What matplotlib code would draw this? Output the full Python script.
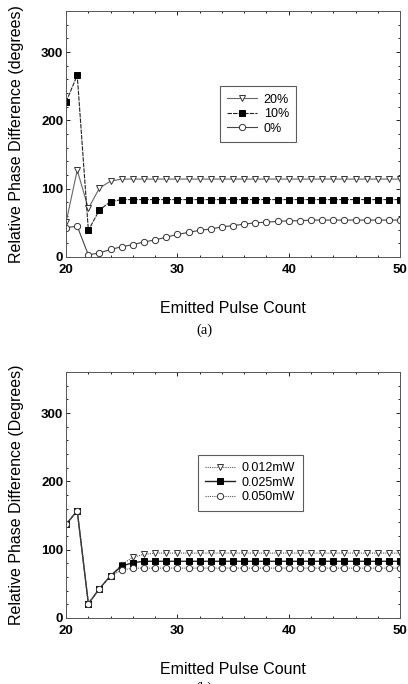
import numpy as np
import matplotlib
matplotlib.use('Agg')
import matplotlib.pyplot as plt
from matplotlib.ticker import MultipleLocator

plt.rcParams['font.family'] = ['Liberation Sans', 'DejaVu Sans']

# pulse counts shared by both panels
pulses = np.arange(20, 51)

# panel (a): relative phase difference vs. noise level
a_20 = [51, 127, 71, 101, 111] + [114] * 26
a_10 = [227, 266, 39, 69, 81] + [84] * 26
a_0 = [43, 45, 3, 6, 11, 15, 18, 22, 25, 29, 33, 36, 39, 41, 44, 46, 48, 50, 51,
       52, 53, 53] + [54] * 9
a_labels = ['20%', '10%', '0%']

# panel (b): relative phase difference vs. power
b_012 = [137, 157, 21, 43, 62, 78, 89, 93] + [95] * 23
b_025 = [137, 157, 21, 43, 62, 76, 81, 83] + [83] * 23
b_050 = [137, 157, 21, 43, 62, 70, 73, 73] + [73] * 23
b_labels = ['0.012mW', '0.025mW', '0.050mW']

fig = plt.figure(figsize=(4.08, 6.84), dpi=100)


def style_axes(ax, ylabel):
    ax.set_xlim(20, 50)
    ax.set_ylim(0, 360)
    ax.set_xticks([20, 30, 40, 50])
    ax.set_yticks([0, 100, 200, 300])
    ax.xaxis.set_minor_locator(MultipleLocator(2))
    ax.yaxis.set_minor_locator(MultipleLocator(20))
    ax.tick_params(which='both', direction='in', top=True, right=True,
                   labelsize=9.5, width=0.6)
    ax.tick_params(axis='x', pad=5)
    ax.tick_params(axis='y', pad=2)
    ax.tick_params(which='major', length=3)
    ax.tick_params(which='minor', length=1.5)
    for lbl in ax.get_xticklabels() + ax.get_yticklabels():
        lbl.set_fontweight('bold')
    for s in ax.spines.values():
        s.set_linewidth(0.7)
        s.set_color('#555555')
    ax.set_ylabel(ylabel, fontsize=11.5, labelpad=12)
    ax.set_xlabel('Emitted Pulse Count', fontsize=11.5, labelpad=18)


def style_legend(leg):
    leg.get_frame().set_edgecolor('#333333')
    leg.get_frame().set_linewidth(0.8)


mk = dict(markersize=4.5, markeredgewidth=0.7)
leg_kw = dict(loc='upper left', fontsize=9, frameon=True, fancybox=False,
              handlelength=2.4, handletextpad=0.5, labelspacing=0.2,
              borderpad=0.6, borderaxespad=0)

ax1 = fig.add_axes([0.162, 0.6243, 0.8186, 0.3596])
l1, = ax1.plot(pulses, a_20, color='#666666', lw=0.8, marker='v', mfc='white',
               mec='#333333', **mk)
l2, = ax1.plot(pulses, a_10, color='#222222', lw=0.8, ls=(0, (4, 1)), marker='s',
               mfc='black', mec='black', **mk)
l3, = ax1.plot(pulses, a_0, color='#444444', lw=0.8, marker='o', mfc='white',
               mec='#333333', **mk)
style_axes(ax1, 'Relative Phase Difference (degrees)')
leg1 = ax1.legend([l1, l2, l3], a_labels, bbox_to_anchor=(0.539, 0.874),
                  bbox_transform=fig.transFigure, **leg_kw)
style_legend(leg1)
fig.text(0.5, 1 - 330 / 684, '(a)', ha='center', va='center',
         family='Liberation Serif', fontsize=10.5)

ax2 = fig.add_axes([0.162, 0.0965, 0.8186, 0.3596])
m1, = ax2.plot(pulses, b_012, color='#555555', lw=0.8, ls=(0, (1, 1)), marker='v',
               mfc='white', mec='#333333', **mk)
m2, = ax2.plot(pulses, b_025, color='#222222', lw=1.0, marker='s',
               mfc='black', mec='black', **mk)
m3, = ax2.plot(pulses, b_050, color='#555555', lw=0.8, ls=(0, (1, 1)), marker='o',
               mfc='white', mec='#333333', **mk)
style_axes(ax2, 'Relative Phase Difference (Degrees)')
leg2 = ax2.legend([m1, m2, m3], b_labels, bbox_to_anchor=(0.485, 0.335),
                  bbox_transform=fig.transFigure, **leg_kw)
style_legend(leg2)
fig.text(0.5, 1 - 688 / 684, '(b)', ha='center', va='center',
         family='Liberation Serif', fontsize=10.5)

fig.savefig('out.png', dpi=100)
